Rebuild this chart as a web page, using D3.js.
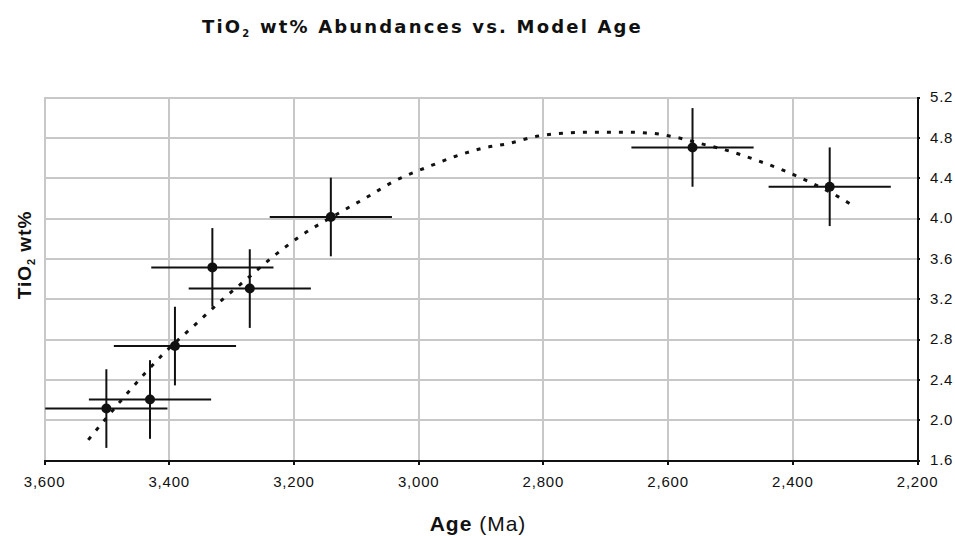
<html>
<script src="https://d3js.org/d3.v7.min.js"></script>
<style>
    body { margin: 0; background: #fff; }
    .grid line {
        stroke: #c8c8c8;
        stroke-width: 2;
        shape-rendering: crispEdges;
    }
    .grid path { stroke-width: 0; }
    .axis path, .axis line {
        fill: none;
        stroke: #111;
        stroke-width: 2;
        shape-rendering: crispEdges;
    }
    .axis text {
        font-family: "Liberation Sans", Arial, sans-serif;
        font-size: 15px;
        fill: #111;
        letter-spacing: 0.8px;
    }
</style>
<body>
<svg id="chart" width=955 height=536></svg>
<script>
// sample points (age in Ma, TiO2 wt%) with error bars
var ages     = [3500, 3430, 3390, 3330, 3270, 3140, 2560, 2340];
var tio2     = [2.11, 2.20, 2.73, 3.51, 3.30, 4.01, 4.70, 4.31];
var ageErr   = [98, 98, 98, 98, 98, 98, 98, 98];
var tio2Err  = [0.39, 0.39, 0.39, 0.39, 0.39, 0.39, 0.39, 0.39];

// polynomial trend line
var trendAge  = [3529, 3475, 3438, 3409, 3358, 3314, 3272, 3230, 3189, 3124, 3081, 3040,
                 2983, 2941, 2898, 2854, 2810, 2768, 2724, 2661, 2625, 2586, 2542, 2499,
                 2456, 2413, 2370, 2326, 2302];
var trendTiO2 = [1.80, 2.20, 2.46, 2.65, 2.94, 3.19, 3.41, 3.63, 3.82, 4.06, 4.21, 4.36,
                 4.51, 4.61, 4.69, 4.74, 4.81, 4.84, 4.85, 4.85, 4.84, 4.80, 4.73, 4.66,
                 4.57, 4.47, 4.35, 4.21, 4.12];

var xTicks = [3600, 3400, 3200, 3000, 2800, 2600, 2400, 2200];
var yTicks = [1.6, 2.0, 2.4, 2.8, 3.2, 3.6, 4.0, 4.4, 4.8, 5.2];

var svg = d3.select("#chart");

var x = d3.scaleLinear().domain([3600, 2200]).range([44, 917]);
var y = d3.scaleLinear().domain([1.6, 5.2]).range([460, 97]);

// gridlines
svg.append("g")
    .attr("class", "grid")
    .attr("transform", "translate(0,460)")
    .call(d3.axisBottom(x).tickValues(xTicks.slice(0, -1)).tickSize(-363).tickFormat(""));

svg.append("g")
    .attr("class", "grid")
    .attr("transform", "translate(44,0)")
    .call(d3.axisLeft(y).tickValues(yTicks.slice(1)).tickSize(-873).tickFormat(""));

// axes
svg.append("g")
    .attr("class", "axis")
    .attr("transform", "translate(0,460)")
    .call(d3.axisBottom(x).tickValues(xTicks).tickSizeInner(5).tickSizeOuter(0).tickPadding(11)
        .tickFormat(d3.format(",")));

svg.append("g")
    .attr("class", "axis")
    .attr("transform", "translate(917,0)")
    .call(d3.axisRight(y).tickValues(yTicks).tickSizeInner(3).tickSizeOuter(0).tickPadding(10)
        .tickFormat(d3.format(".1f")));

// trend line (dotted)
var line = d3.line()
    .x(function(d, i) { return x(trendAge[i]); })
    .y(function(d) { return y(d); })
    .curve(d3.curveMonotoneX);

svg.append("path")
    .datum(trendTiO2)
    .attr("fill", "none")
    .attr("stroke", "#111")
    .attr("stroke-width", 3)
    .attr("stroke-dasharray", "4,8")
    .attr("d", line);

// error bars
var pts = ages.map(function(a, i) { return {a: a, v: tio2[i], ea: ageErr[i], ev: tio2Err[i]}; });

svg.selectAll(".hbar").data(pts).enter().append("line")
    .attr("x1", function(d) { return x(d.a + d.ea); })
    .attr("x2", function(d) { return x(d.a - d.ea); })
    .attr("y1", function(d) { return y(d.v); })
    .attr("y2", function(d) { return y(d.v); })
    .attr("stroke", "#111").attr("stroke-width", 2);

svg.selectAll(".vbar").data(pts).enter().append("line")
    .attr("x1", function(d) { return x(d.a); })
    .attr("x2", function(d) { return x(d.a); })
    .attr("y1", function(d) { return y(d.v - d.ev); })
    .attr("y2", function(d) { return y(d.v + d.ev); })
    .attr("stroke", "#111").attr("stroke-width", 2);

svg.selectAll(".dot").data(pts).enter().append("circle")
    .attr("cx", function(d) { return x(d.a); })
    .attr("cy", function(d) { return y(d.v); })
    .attr("r", 5)
    .attr("fill", "#111");

// stretch a text to a given width using letter spacing
function fitWidth(t, target) {
    var w = t.node().getBBox().width;
    var n = t.text().length;
    t.style("letter-spacing", ((target - w) / n) + "px");
}

// title
var title = svg.append("text")
    .attr("x", 202).attr("y", 33)
    .style("font-family", "'DejaVu Sans', Verdana, sans-serif")
    .style("font-size", "18px")
    .style("font-weight", "bold")
    .style("fill", "#111");
title.append("tspan").text("TiO");
title.append("tspan").attr("dy", 4).style("font-size", "10px").text("2");
title.append("tspan").attr("dy", -4).text(" wt% Abundances vs. Model Age");
fitWidth(title, 441);

// x axis label
var xl = svg.append("text")
    .attr("x", 478).attr("y", 531)
    .style("text-anchor", "middle")
    .style("font-family", "'Liberation Sans', Arial, sans-serif")
    .style("font-size", "21px")
    .style("letter-spacing", "1px")
    .style("fill", "#111");
xl.append("tspan").style("font-weight", "bold").text("Age ");
xl.append("tspan").text("(Ma)");

// y axis label
var yl = svg.append("text")
    .attr("transform", "translate(31,255) rotate(-90)")
    .style("text-anchor", "middle")
    .style("font-family", "'Liberation Sans', Arial, sans-serif")
    .style("font-size", "19px")
    .style("font-weight", "bold")
    .style("letter-spacing", "1px")
    .style("fill", "#111");
yl.append("tspan").text("TiO");
yl.append("tspan").attr("dy", 4).style("font-size", "11px").text("2");
yl.append("tspan").attr("dy", -4).text(" wt%");
</script>
</body>
</html>
